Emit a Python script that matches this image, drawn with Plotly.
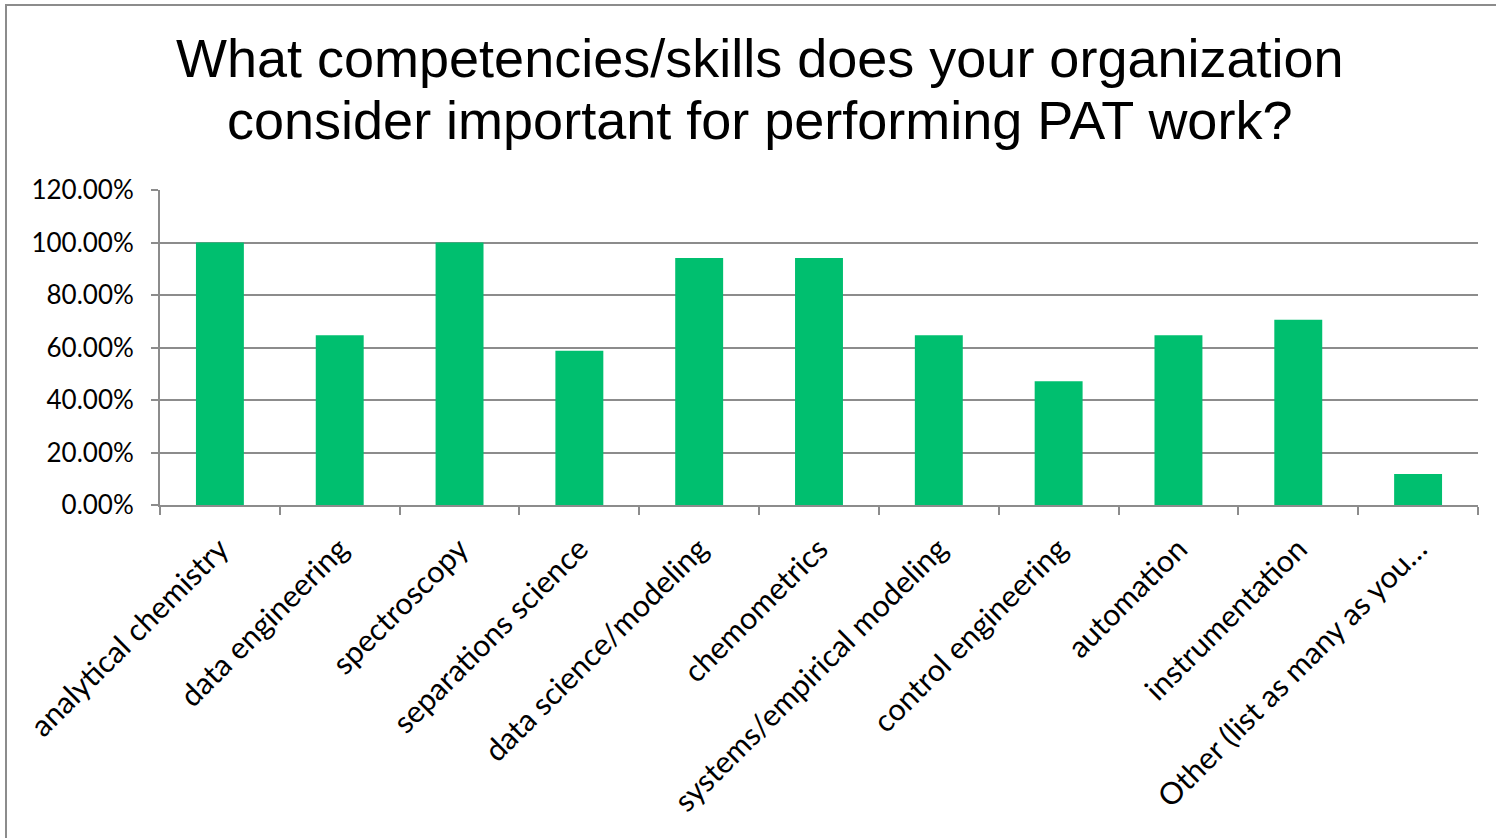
import plotly.graph_objects as go

# Survey responses: share of organizations naming each competency
skills = [
    "analytical chemistry",
    "data engineering",
    "spectroscopy",
    "separations science",
    "data science/modeling",
    "chemometrics",
    "systems/empirical modeling",
    "control engineering",
    "automation",
    "instrumentation",
    "Other (list as many as you…",
]
share = [1.0, 0.647, 1.0, 0.588, 0.941, 0.941, 0.647, 0.471, 0.647, 0.706, 0.118]

y_ticks = [0, 0.2, 0.4, 0.6, 0.8, 1.0, 1.2]

title_lines = [
    "What competencies/skills does your organization",
    "consider important for performing PAT work?",
]

GRID = "#8c8c8c"
FONT_FAMILY = "Lato, Open Sans, sans-serif"
TITLE_FONT = dict(family="Liberation Sans, Arial, sans-serif", size=54, color="#000000")

fig = go.Figure(
    go.Bar(
        x=skills,
        y=share,
        marker=dict(color="#00BF6F", line=dict(width=0)),
        hoverinfo="x+y",
    )
)

# two-line chart title, one annotation per line for tighter line spacing
title_annotations = [
    dict(
        text=line,
        xref="paper", yref="paper",
        x=0.455, y=(505 - yc) / 315,
        xanchor="center", yanchor="middle",
        showarrow=False,
        font=TITLE_FONT,
    )
    for line, yc in zip(title_lines, [58, 120])
]

fig.update_layout(
    width=1496,
    height=838,
    margin=dict(l=160, r=18, t=190, b=333),
    paper_bgcolor="#ffffff",
    plot_bgcolor="#ffffff",
    bargap=0.6,
    showlegend=False,
    annotations=title_annotations,
    shapes=[
        # outer chart frame (runs past the right and bottom edges of the page)
        dict(
            type="rect", xref="paper", yref="paper",
            x0=(6 - 160) / 1318, x1=(1510 - 160) / 1318,
            y0=(505 - 850) / 315, y1=(505 - 5) / 315,
            line=dict(color="#8c8c8c", width=2),
            fillcolor="rgba(0,0,0,0)",
            layer="below",
        )
    ],
)

fig.update_yaxes(
    range=[0, 1.2],
    tickvals=y_ticks,
    tickformat=".2%",
    showgrid=True,
    gridcolor=GRID,
    gridwidth=2,
    zeroline=False,
    showline=True,
    linecolor=GRID,
    linewidth=2,
    ticks="outside",
    ticklen=7,
    tickwidth=2,
    tickcolor=GRID,
    ticklabelstandoff=12,
    tickfont=dict(family=FONT_FAMILY, size=26, color="#000000"),
)

fig.update_xaxes(
    type="category",
    tickangle=-45,
    tickson="boundaries",
    ticks="outside",
    ticklen=8,
    tickwidth=2,
    tickcolor=GRID,
    showline=True,
    linecolor=GRID,
    linewidth=2,
    showgrid=False,
    ticklabelstandoff=12,
    tickfont=dict(family=FONT_FAMILY, size=30.5, color="#000000"),
)

fig.write_html("out.html")
